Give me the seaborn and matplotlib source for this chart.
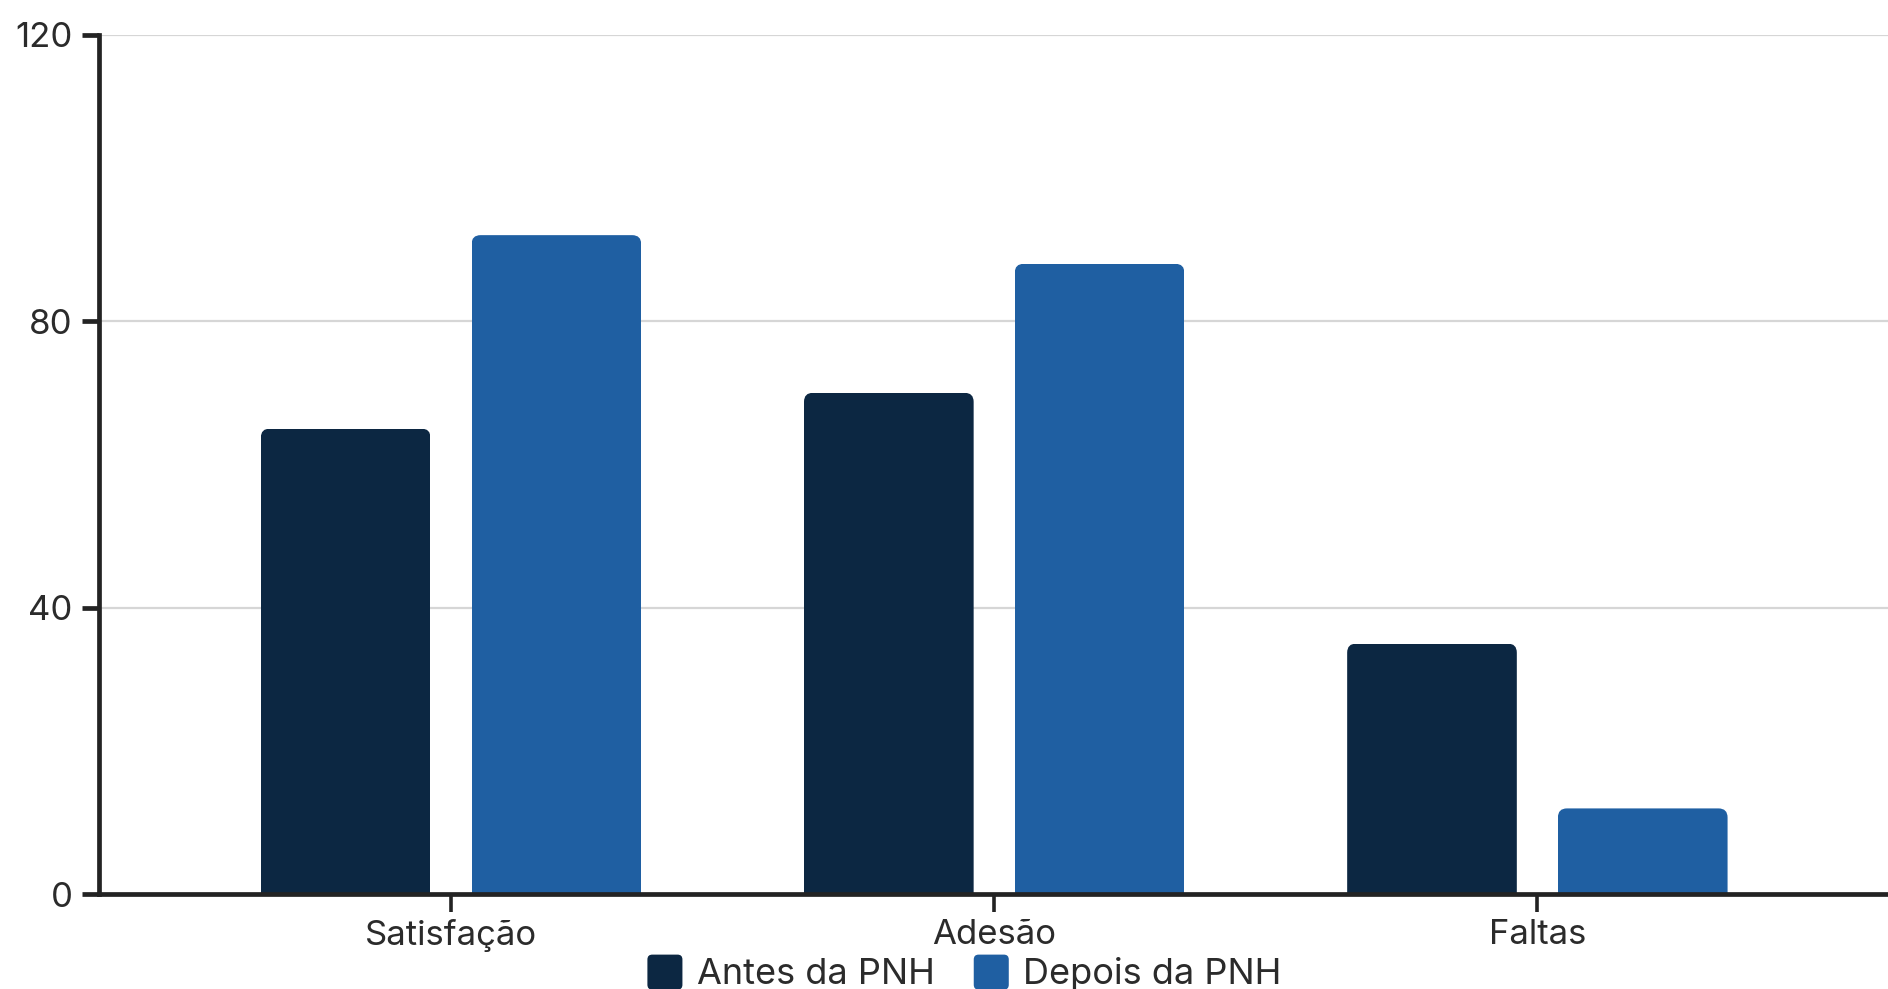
import numpy as np
import pandas as pd
import matplotlib
matplotlib.use("Agg")
import matplotlib.pyplot as plt
import seaborn as sns
from matplotlib.patches import FancyBboxPatch
from matplotlib.legend_handler import HandlerPatch

categories = ["Satisfação", "Adesão", "Faltas"]
series_names = ["Antes da PNH", "Depois da PNH"]
antes = [65, 70, 35]
depois = [92, 88, 12]
yticks = [0, 40, 80, 120]
colors = ["#0C2742", "#1F5FA2"]

df = pd.DataFrame({
    "cat": categories * 2,
    "grp": [series_names[0]] * 3 + [series_names[1]] * 3,
    "val": antes + depois,
})

sns.set_theme(style="white")
plt.rcParams["font.family"] = ["Inter", "DejaVu Sans"]

W, H = 1888, 989
fig = plt.figure(figsize=(W / 100, H / 100), dpi=100)
ax = fig.add_axes([98.5 / W, 94.6 / H, 1.0 - 98.5 / W + 0.001, (894.4 - 34.5) / H])

sns.barplot(data=df, x="cat", y="val", hue="grp", palette=colors, width=0.776,
            gap=0.195, saturation=1, linewidth=0, ax=ax, legend=True)

ax.set_xlim(-0.649, 2.649)
ax.set_ylim(0, 120)
ax.set_yticks(yticks)
ax.set_xlabel("")
ax.set_ylabel("")

ax.yaxis.grid(True, color="#d6d6d6", linewidth=1.6)
ax.xaxis.grid(False)
ax.set_axisbelow(True)

for s in ["top", "right"]:
    ax.spines[s].set_visible(False)
ax.spines["left"].set_color("#232323")
ax.spines["left"].set_linewidth(3.4)
ax.spines["bottom"].set_color("#232323")
ax.spines["bottom"].set_linewidth(3.4)
ax.spines["bottom"].set_zorder(5)

ax.tick_params(axis="y", which="major", left=True, length=12.5, width=3.4,
               color="#232323", labelsize=25, labelcolor="#2b2b2b", pad=6)
ax.tick_params(axis="x", which="major", bottom=True, length=12.8, width=2.6,
               color="#232323", labelsize=25, labelcolor="#2b2b2b", pad=5)

# rounded top corners via clip paths
fig.canvas.draw()
p0 = ax.transData.transform((0, 0))
p1 = ax.transData.transform((1, 1))
px_per_x = p1[0] - p0[0]
px_per_y = p1[1] - p0[1]
radius_px = 9
r_x = radius_px / px_per_x
aspect = px_per_x / px_per_y
for bar in ax.patches:
    x, y = bar.get_x(), bar.get_y()
    w, h = bar.get_width(), bar.get_height()
    if h <= 0:
        continue
    extra = 5
    clip = FancyBboxPatch((x, y - extra), w, h + extra,
                          boxstyle=f"round,pad=0,rounding_size={r_x}",
                          mutation_aspect=aspect, transform=ax.transData)
    bar.set_clip_path(clip)

handles, labels = ax.get_legend_handles_labels()
ax.get_legend().remove()


def rounded_handle(legend, orig_handle, xdescent, ydescent, width, height, fontsize):
    return FancyBboxPatch((-xdescent, -ydescent), width, height,
                          boxstyle="round,pad=0,rounding_size=3.5")


leg = fig.legend(handles, labels, loc="center", ncol=2,
                 bbox_to_anchor=(964.5 / W, 1 - 973 / H), frameon=False,
                 fontsize=26, handlelength=0.97, handleheight=1.115,
                 handletextpad=0.4, columnspacing=1.08, borderpad=0,
                 borderaxespad=0,
                 handler_map={h: HandlerPatch(patch_func=rounded_handle) for h in handles})
for t in leg.get_texts():
    t.set_color("#2b2b2b")

fig.savefig("out.png", dpi=100)
